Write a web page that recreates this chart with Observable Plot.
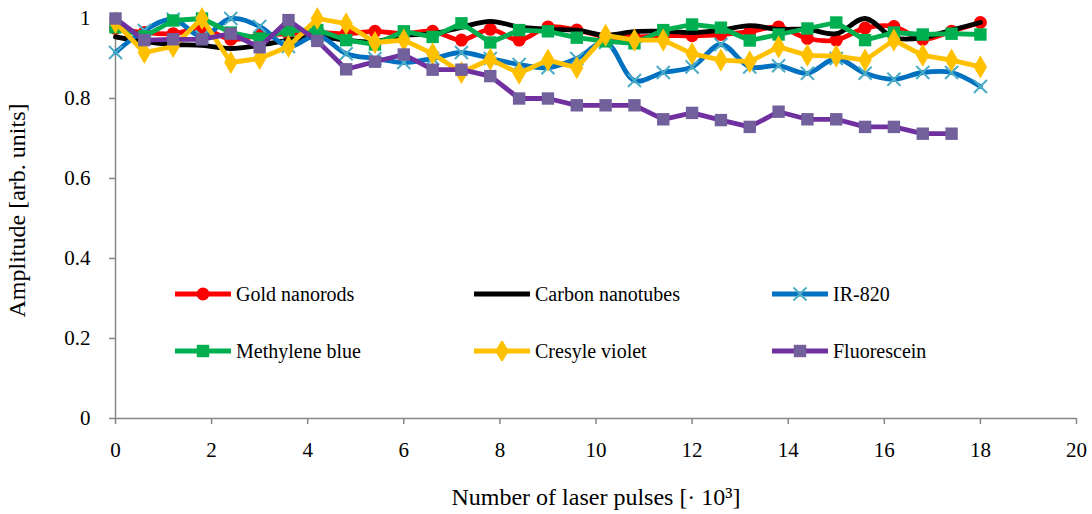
<!DOCTYPE html>
<html>
<head>
<meta charset="utf-8">
<script src="https://cdn.jsdelivr.net/npm/d3@7"></script>
<script src="https://cdn.jsdelivr.net/npm/@observablehq/plot@0.6"></script>
<style>
  html, body { margin: 0; padding: 0; background: #fff; }
  #wrap { position: relative; width: 1092px; height: 514px; font-family: "Liberation Serif", "Tinos", "Times New Roman", Times, "DejaVu Serif", serif; }
  #legend { position: absolute; left: 175px; top: 282px; display: grid; grid-template-columns: 299px 298px 220px; row-gap: 33px; font-size: 20px; color: #000; }
  .item { display: flex; align-items: center; height: 24px; white-space: nowrap; }
  .item svg { margin-right: 5px; flex: none; }
</style>
</head>
<body>
<div id="wrap"><div id="chart"></div><div id="legend"></div></div>
<script>
const pulses = [0, 0.6, 1.2, 1.8, 2.4, 3.0, 3.6, 4.2, 4.8, 5.4, 6.0, 6.6, 7.2, 7.8, 8.4, 9.0, 9.6, 10.2, 10.8, 11.4, 12.0, 12.6, 13.2, 13.8, 14.4, 15.0, 15.6, 16.2, 16.8, 17.4, 18.0];

const goldNanorods = [0.975, 0.965, 0.962, 0.975, 0.948, 0.958, 0.962, 0.965, 0.962, 0.968, 0.962, 0.968, 0.946, 0.973, 0.946, 0.979, 0.971, 0.954, 0.954, 0.957, 0.957, 0.96, 0.967, 0.979, 0.95, 0.946, 0.976, 0.98, 0.948, 0.968, 0.99];
const carbonNanotubes = [0.954, 0.942, 0.935, 0.933, 0.925, 0.933, 0.946, 0.954, 0.946, 0.942, 0.958, 0.962, 0.978, 0.993, 0.979, 0.973, 0.971, 0.958, 0.967, 0.968, 0.965, 0.971, 0.982, 0.973, 0.973, 0.962, 1.0, 0.952, 0.952, 0.971, 0.99];
const ir820 = [0.915, 0.97, 0.998, 0.955, 1.0, 0.98, 0.93, 0.958, 0.912, 0.90, 0.89, 0.90, 0.915, 0.90, 0.885, 0.877, 0.90, 0.94, 0.845, 0.865, 0.879, 0.935, 0.879, 0.882, 0.863, 0.90, 0.863, 0.848, 0.865, 0.865, 0.83];
const methyleneBlue = [0.978, 0.955, 0.995, 1.0, 0.965, 0.95, 0.97, 0.971, 0.946, 0.935, 0.968, 0.954, 0.988, 0.94, 0.971, 0.968, 0.952, 0.943, 0.938, 0.971, 0.985, 0.977, 0.945, 0.96, 0.975, 0.99, 0.946, 0.965, 0.96, 0.962, 0.96];
const cresyleViolet = [0.99, 0.915, 0.93, 1.0, 0.89, 0.90, 0.93, 1.0, 0.987, 0.94, 0.946, 0.912, 0.865, 0.898, 0.863, 0.896, 0.877, 0.958, 0.946, 0.946, 0.912, 0.896, 0.892, 0.929, 0.908, 0.906, 0.896, 0.946, 0.908, 0.896, 0.879];
const fluorescein = [1.0, 0.946, 0.948, 0.948, 0.962, 0.928, 0.996, 0.944, 0.873, 0.892, 0.91, 0.872, 0.872, 0.856, 0.80, 0.80, 0.783, 0.783, 0.783, 0.748, 0.764, 0.746, 0.729, 0.767, 0.748, 0.748, 0.729, 0.729, 0.712, 0.712];

const xTicks = [0, 2, 4, 6, 8, 10, 12, 14, 16, 18, 20];
const yTicks = [0, 0.2, 0.4, 0.6, 0.8, 1];
const xTitle = "Number of laser pulses [· 10³]";
const yTitle = "Amplitude [arb. units]";

const series = [
  {name: "Gold nanorods", values: goldNanorods, line: "#FF0000", curve: "catmull-rom", symbol: "circle", mfill: "#FF0000", mstroke: "none", r: 6.5},
  {name: "Carbon nanotubes", values: carbonNanotubes, line: "#000000", curve: "catmull-rom", symbol: null},
  {name: "IR-820", values: ir820, line: "#0070C0", curve: "catmull-rom", symbol: "times", mfill: "none", mstroke: "#4BACC6", r: 6},
  {name: "Methylene blue", values: methyleneBlue, line: "#00B050", curve: "linear", symbol: "square", mfill: "#00B050", mstroke: "none", r: 7},
  {name: "Cresyle violet", values: cresyleViolet, line: "#FFC000", curve: "linear", symbol: "diamond", mfill: "#FFC000", mstroke: "none", r: 7},
  {name: "Fluorescein", values: fluorescein, line: "#7030A0", curve: "linear", symbol: "square", mfill: "#72609C", mstroke: "none", r: 7}
];

const fontStack = "'Liberation Serif', Tinos, 'Times New Roman', Times, 'DejaVu Serif', serif";
const axisColor = "#868686";
const marks = [];
for (const s of series) {
  const rows = s.values.map((v, i) => ({x: pulses[i], y: v}));
  marks.push(Plot.line(rows, {x: "x", y: "y", stroke: s.line, strokeWidth: 4.8, curve: s.curve}));
  if (s.symbol) {
    if (s.symbol === "times") {
      marks.push(Plot.dot(rows, {x: "x", y: "y", symbol: "times", r: s.r, stroke: s.mstroke, strokeWidth: 2, fill: "none"}));
    } else {
      marks.push(Plot.dot(rows, {x: "x", y: "y", symbol: s.symbol, r: s.r, fill: s.mfill, stroke: "none"}));
    }
  }
}

const chart = Plot.plot({
  width: 1092,
  height: 514,
  marginLeft: 115,
  marginRight: 16,
  marginTop: 18,
  marginBottom: 96,
  style: {fontFamily: fontStack, fontSize: "21px", color: "#000", background: "#fff"},
  x: {domain: [0, 20]},
  y: {domain: [0, 1]},
  marks: [
    Plot.axisX({ticks: xTicks, tickSize: 6, tickPadding: 18, stroke: axisColor, strokeWidth: 1.5, tickFormat: d => String(d), label: null, fontSize: 21, fill: "#000"}),
    Plot.axisY({ticks: yTicks, tickSize: 6, tickPadding: 19, stroke: axisColor, strokeWidth: 1.5, tickFormat: d => String(d), label: null, fontSize: 21, fill: "#000"}),
    Plot.ruleX([0], {stroke: axisColor, strokeWidth: 1.5}),
    Plot.ruleY([0], {stroke: axisColor, strokeWidth: 1.5}),
    ...marks,
    Plot.text([xTitle], {frameAnchor: "bottom", textAnchor: "middle", dy: 79, fontSize: 24, fill: "#000", lineAnchor: "middle"}),
    Plot.text([yTitle], {frameAnchor: "left", textAnchor: "middle", dx: -98, dy: -8, rotate: -90, fontSize: 24, fill: "#000", lineAnchor: "middle"})
  ]
});
document.getElementById("chart").appendChild(chart);

// legend
const legend = document.getElementById("legend");
const ns = "http://www.w3.org/2000/svg";
for (const s of series) {
  const item = document.createElement("div");
  item.className = "item";
  const svg = document.createElementNS(ns, "svg");
  svg.setAttribute("width", 56);
  svg.setAttribute("height", 20);
  const ln = document.createElementNS(ns, "line");
  ln.setAttribute("x1", 0); ln.setAttribute("x2", 56); ln.setAttribute("y1", 10); ln.setAttribute("y2", 10);
  ln.setAttribute("stroke", s.line); ln.setAttribute("stroke-width", 4.8);
  svg.appendChild(ln);
  if (s.symbol) {
    const typ = {circle: d3.symbolCircle, square: d3.symbolSquare, diamond: d3.symbolDiamond, times: d3.symbolTimes}[s.symbol];
    const p = document.createElementNS(ns, "path");
    p.setAttribute("d", d3.symbol(typ, s.r * s.r * Math.PI)());
    p.setAttribute("transform", "translate(28,10)");
    if (s.symbol === "times") {
      p.setAttribute("fill", "none"); p.setAttribute("stroke", s.mstroke); p.setAttribute("stroke-width", 2);
    } else {
      p.setAttribute("fill", s.mfill);
    }
    svg.appendChild(p);
  }
  item.appendChild(svg);
  const t = document.createElement("span");
  t.textContent = s.name;
  item.appendChild(t);
  legend.appendChild(item);
}
</script>
</body>
</html>
